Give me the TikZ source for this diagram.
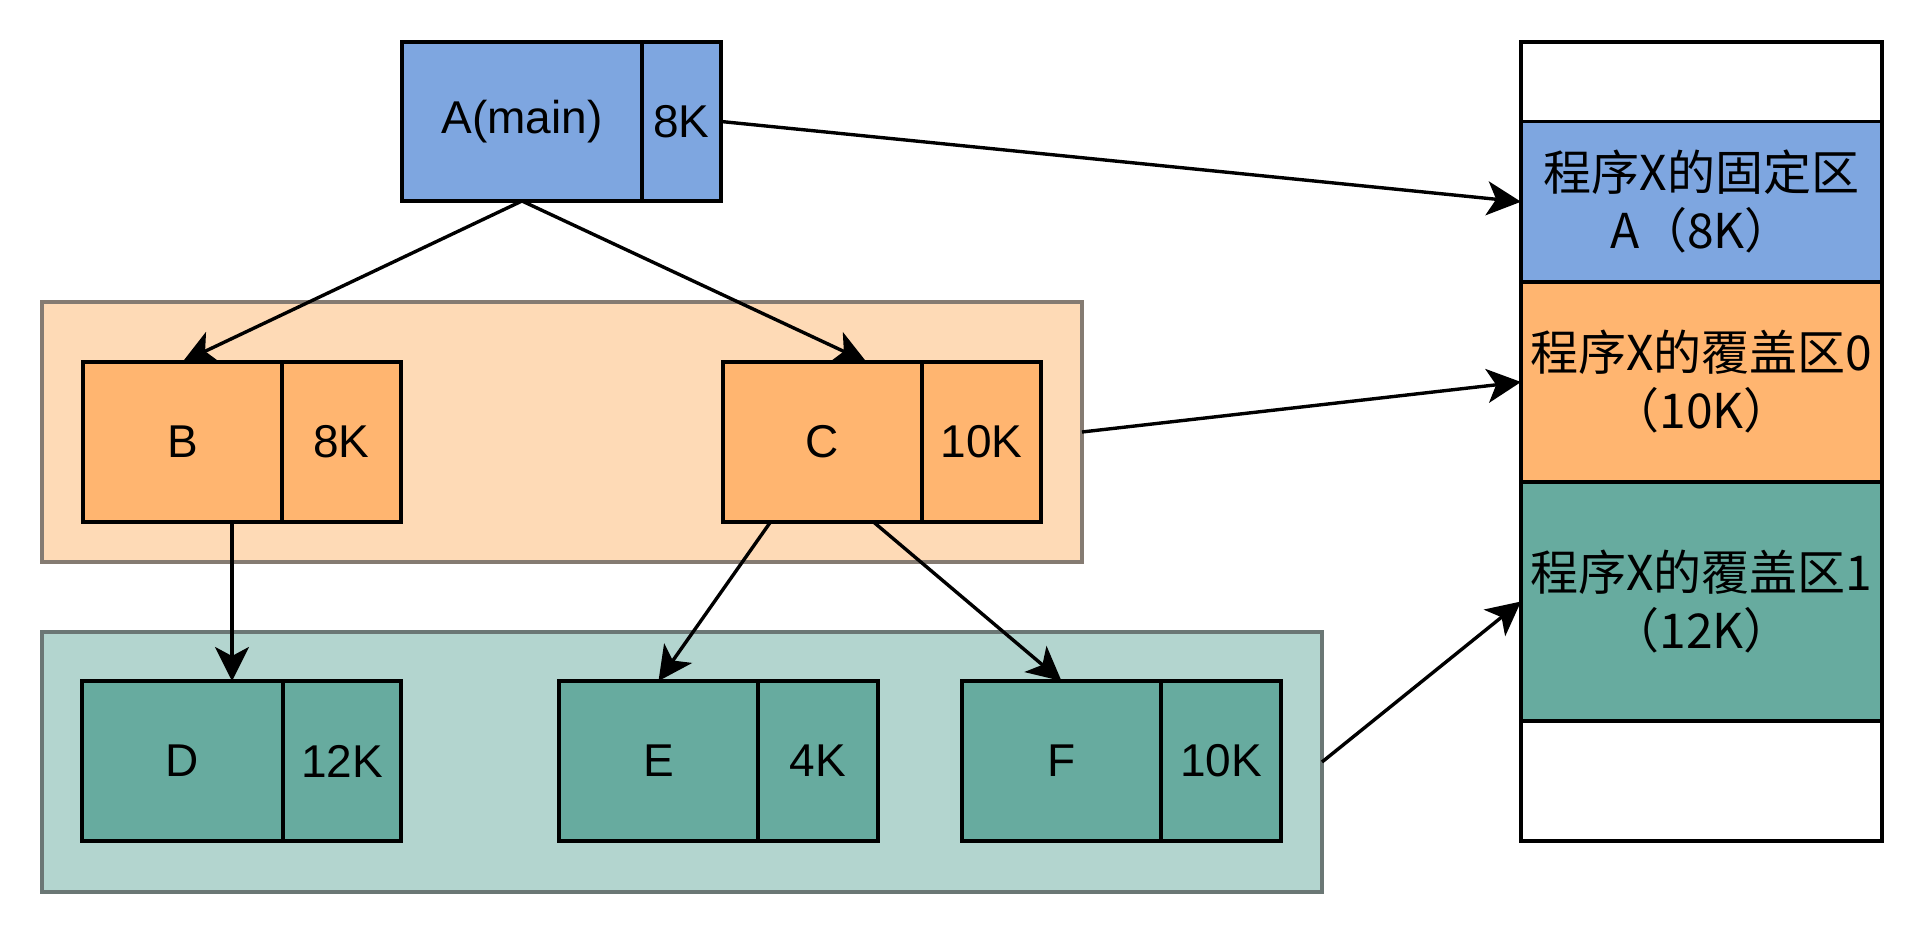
\documentclass[tikz,border=0pt]{standalone}
\usepackage{fontspec}
\setmainfont{Liberation Sans}
\newfontfamily\cjk{Noto Sans CJK SC}
\usetikzlibrary{arrows.meta,calc}
\definecolor{cblue}{HTML}{7EA6E0}
\definecolor{corange}{HTML}{FFB570}
\definecolor{cgreen}{HTML}{67AB9F}
\definecolor{ocfill}{HTML}{FEDAB6}
\definecolor{ocdraw}{HTML}{857B72}
\definecolor{gcfill}{HTML}{B3D5CF}
\definecolor{gcdraw}{HTML}{6B7775}
\tikzset{
  cell/.style={draw=black, line width=1.7pt, inner sep=0pt, outer sep=0pt, minimum height=80pt,
    font=\fontsize{23}{27}\selectfont},
  grp/.style={line width=1.6pt, inner sep=0pt, outer sep=0pt, minimum height=130pt},
  memcell/.style={draw=black, line width=1.7pt, inner sep=0pt, outer sep=0pt, minimum width=180.5pt,
    align=center, font=\cjk\fontsize{24}{29}\selectfont},
  conn/.style={line width=1.7pt, -{Stealth[length=17pt,width=17pt,inset=4.5pt]}}
}
\begin{document}
\begin{tikzpicture}[x=0.5pt,y=-0.5pt]
\useasboundingbox[fill=white] (0,0) rectangle (1924,936);
% containers
\node[grp, fill=ocfill, draw=ocdraw, minimum width=520pt, anchor=north west] (OC) at (42,302) {};
\node[grp, fill=gcfill, draw=gcdraw, minimum width=640pt, anchor=north west] (GC) at (42,632) {};
% A
\node[cell, fill=cblue, minimum width=120pt, minimum height=79.5pt, anchor=north west] (A1) at (402,42) {A(main)};
\node[cell, fill=cblue, minimum width=39.5pt, minimum height=79.5pt, anchor=west] (A2) at (A1.east) {8K};
% B, C
\node[cell, fill=corange, minimum width=99.5pt, anchor=north west] (B1) at (83,362) {B};
\node[cell, fill=corange, minimum width=59.5pt, anchor=west] (B2) at (B1.east) {8K};
\node[cell, fill=corange, minimum width=99.5pt, anchor=north west] (C1) at (723,362) {C};
\node[cell, fill=corange, minimum width=59.5pt, anchor=west] (C2) at (C1.east) {10K};
% D, E, F
\node[cell, fill=cgreen, minimum width=100.5pt, anchor=north west] (D1) at (82,681) {D};
\node[cell, fill=cgreen, minimum width=59pt, anchor=west] (D2) at (D1.east) {12K};
\node[cell, fill=cgreen, minimum width=99.5pt, anchor=north west] (E1) at (559,681) {E};
\node[cell, fill=cgreen, minimum width=60pt, anchor=west] (E2) at (E1.east) {4K};
\node[cell, fill=cgreen, minimum width=99.5pt, anchor=north west] (F1) at (962,681) {F};
\node[cell, fill=cgreen, minimum width=60pt, anchor=west] (F2) at (F1.east) {10K};
% memory column
\node[memcell, fill=white, minimum height=39.75pt, anchor=north west] (M0) at (1521,42) {};
\node[memcell, fill=cblue, minimum height=80.25pt, anchor=north] (M1) at (M0.south) {程序X的固定区\\A（8K）};
\node[memcell, fill=corange, minimum height=100pt, anchor=north] (M2) at (M1.south) {程序X的覆盖区0\\（10K）};
\node[memcell, fill=cgreen, minimum height=119.5pt, anchor=north] (M3) at (M2.south) {程序X的覆盖区1\\（12K）};
\node[memcell, fill=white, minimum height=60pt, anchor=north] (M4) at (M3.south) {};
% connectors
\draw[conn] (A1.south) -- (B1.north);
\draw[conn] (A1.south) -- ([xshift=22pt]C1.north);
\draw[conn] ([xshift=24.75pt]B1.south) -- ([xshift=24.75pt]D1.north);
\draw[conn] ([xshift=-26pt]C1.south) -- (E1.north);
\draw[conn] ([xshift=25.5pt]C1.south) -- (F1.north);
\draw[conn] (A2.east) -- (M1.west);
\draw[conn] (OC.east) -- (M2.west);
\draw[conn] (GC.east) -- (M3.west);
\end{tikzpicture}
\end{document}
